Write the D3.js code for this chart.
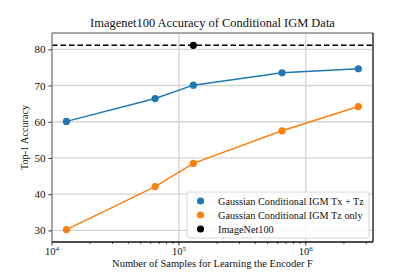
<!DOCTYPE html>
<html>
<head>
<meta charset="utf-8">
<script src="https://cdn.jsdelivr.net/npm/d3@7"></script>
<style>
  body { margin: 0; background: #fff; }
  text { font-family: "Liberation Serif", "DejaVu Serif", serif; fill: #111; }
</style>
</head>
<body>
<svg id="chart" width="415" height="277"></svg>
<script>
const samples = [13000, 65000, 130000, 650000, 2600000];
const txTz = [60.1, 66.4, 70.1, 73.5, 74.6];
const tzOnly = [30.2, 42.1, 48.5, 57.5, 64.2];
const imagenet = { x: 130000, y: 81.1 };
const yTicks = [30, 40, 50, 60, 70, 80];
const xTicks = [1e4, 1e5, 1e6];
const legendLabels = ["Gaussian Conditional IGM Tx + Tz", "Gaussian Conditional IGM Tz only", "ImageNet100"];
const colors = ["#1f77b4", "#ff7f0e", "#000"];

const svg = d3.select("#chart");
const m = { left: 52, right: 373, top: 33, bottom: 242 };

const x = d3.scaleLog().domain([1e4, Math.pow(10, 6.53)]).range([m.left, m.right]);
const y = d3.scaleLinear().domain([26.8, 84.5]).range([m.bottom, m.top]);

// shrink/grow a text so it spans the width seen in the reference
function fitWidth(sel, w) {
  const n = sel.node();
  const fs = parseFloat(sel.style("font-size"));
  const cur = n.getComputedTextLength();
  sel.style("font-size", (fs * w / cur).toFixed(2) + "px");
  return fs * w / cur;
}

// grid
const grid = svg.append("g");
grid.selectAll(".gy").data(yTicks).join("line")
  .attr("x1", m.left).attr("x2", m.right)
  .attr("y1", d => y(d)).attr("y2", d => y(d))
  .attr("stroke", "#d4d4d4").attr("stroke-width", 1.3);
grid.selectAll(".gx").data([1e5, 1e6]).join("line")
  .attr("x1", d => x(d)).attr("x2", d => x(d))
  .attr("y1", m.top).attr("y2", m.bottom)
  .attr("stroke", "#d4d4d4").attr("stroke-width", 1.3);

// dashed reference line
svg.append("line")
  .attr("x1", m.left).attr("x2", m.right)
  .attr("y1", y(imagenet.y)).attr("y2", y(imagenet.y))
  .attr("stroke", "#000").attr("stroke-width", 1.5)
  .attr("stroke-dasharray", "5.5,3");

// series
const line = d3.line().x(d => x(d[0])).y(d => y(d[1]));
[txTz, tzOnly].forEach((vals, i) => {
  const pts = samples.map((s, j) => [s, vals[j]]);
  svg.append("path").datum(pts)
    .attr("d", line).attr("fill", "none")
    .attr("stroke", colors[i]).attr("stroke-width", 1.5);
  svg.append("g").selectAll("circle").data(pts).join("circle")
    .attr("cx", d => x(d[0])).attr("cy", d => y(d[1]))
    .attr("r", 3.6).attr("fill", colors[i]);
});
svg.append("circle")
  .attr("cx", x(imagenet.x)).attr("cy", y(imagenet.y))
  .attr("r", 3.6).attr("fill", "#000");

// axes
const yAxis = svg.append("g").attr("transform", `translate(${m.left},0)`)
  .call(d3.axisLeft(y).tickValues(yTicks).tickSize(3.5).tickPadding(3));
yAxis.select(".domain").remove();
yAxis.selectAll("text").style("font-size", "11px");
yAxis.selectAll("line").attr("stroke", "#222");

const minorX = [];
for (let e = 4; e <= 6; e++) for (let k = 2; k <= 9; k++) {
  const v = k * Math.pow(10, e);
  if (v <= x.domain()[1]) minorX.push(v);
}
svg.append("g").selectAll("line").data(minorX).join("line")
  .attr("x1", d => x(d)).attr("x2", d => x(d))
  .attr("y1", m.bottom).attr("y2", m.bottom + 2)
  .attr("stroke", "#222").attr("stroke-width", 0.8);
svg.append("g").selectAll("line").data(xTicks).join("line")
  .attr("x1", d => x(d)).attr("x2", d => x(d))
  .attr("y1", m.bottom).attr("y2", m.bottom + 3.5)
  .attr("stroke", "#222").attr("stroke-width", 0.9);
const xl = svg.append("g").selectAll("text").data(xTicks).join("text")
  .attr("x", d => x(d)).attr("y", 255)
  .attr("text-anchor", "middle").style("font-size", "10.5px");
xl.append("tspan").text("10");
xl.append("tspan").attr("dy", -4).style("font-size", "7px")
  .text(d => Math.round(Math.log10(d)));

// spines
svg.append("line").attr("x1", m.left).attr("x2", m.right).attr("y1", m.top).attr("y2", m.top)
  .attr("stroke", "#888").attr("stroke-width", 1.5);
svg.append("line").attr("x1", m.left).attr("x2", m.left).attr("y1", m.top).attr("y2", m.bottom)
  .attr("stroke", "#888").attr("stroke-width", 1.5);
svg.append("line").attr("x1", m.right).attr("x2", m.right).attr("y1", m.top).attr("y2", m.bottom)
  .attr("stroke", "#111").attr("stroke-width", 1.3);
svg.append("line").attr("x1", m.left).attr("x2", m.right).attr("y1", m.bottom).attr("y2", m.bottom)
  .attr("stroke", "#111").attr("stroke-width", 1.3);

// legend
const lg = svg.append("g").attr("transform", "translate(187,192)");
lg.append("rect").attr("width", 182).attr("height", 46).attr("rx", 2)
  .attr("fill", "rgba(255,255,255,0.85)").attr("stroke", "#d8d8d8");
const lt = legendLabels.map((t, i) => {
  lg.append("circle").attr("cx", 13.5).attr("cy", 9 + i * 14).attr("r", 3.6).attr("fill", colors[i]);
  return lg.append("text").attr("x", 31).attr("y", 12.5 + i * 14).style("font-size", "10px").text(t);
});
const lfs = fitWidth(lt[0], 146);
lt.forEach(t => t.style("font-size", lfs.toFixed(2) + "px"));

// titles
fitWidth(svg.append("text").attr("x", (m.left + m.right) / 2).attr("y", 27)
  .attr("text-anchor", "middle").style("font-size", "12px")
  .text("Imagenet100 Accuracy of Conditional IGM Data"), 245);
fitWidth(svg.append("text").attr("x", 212.5).attr("y", 267)
  .attr("text-anchor", "middle").style("font-size", "10px")
  .text("Number of Samples for Learning the Encoder F"), 201);
fitWidth(svg.append("text").attr("transform", "translate(28,137.5) rotate(-90)")
  .attr("text-anchor", "middle").style("font-size", "10px")
  .text("Top-1 Accuracy"), 65);
</script>
</body>
</html>
